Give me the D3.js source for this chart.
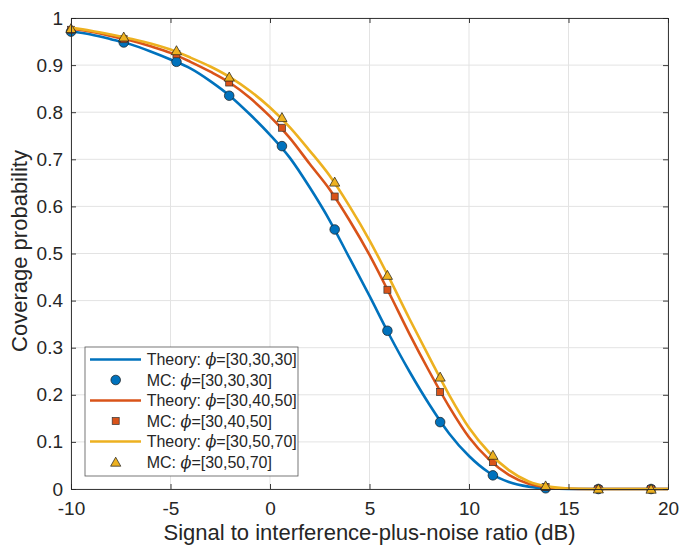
<!DOCTYPE html>
<html>
<head>
<meta charset="utf-8">
<script src="https://cdn.jsdelivr.net/npm/d3@7"></script>
<style>
  body { margin: 0; background: #fff; }
  text { font-family: "Liberation Sans", Arial, Helvetica, sans-serif; fill: #262626; }
</style>
</head>
<body>
<svg id="chart" width="680" height="546"></svg>
<script>
// theory curves, sampled every 1 dB
var sinrTheory = [-10,-9,-8,-7,-6,-5,-4,-3,-2,-1,0,1,2,3,4,5,6,7,8,9,10,11,12,13,14,15,16,17,18,19,20];
var theoryA = [0.972,0.965,0.955,0.944,0.929,0.912,0.893,0.866,0.834,0.795,0.752,0.703,0.640,0.570,0.490,0.410,0.327,0.250,0.180,0.118,0.070,0.035,0.015,0.005,0.001,0,0,0,0,0,0];
var theoryB = [0.977,0.971,0.962,0.952,0.940,0.926,0.907,0.886,0.862,0.830,0.791,0.745,0.690,0.636,0.570,0.497,0.415,0.330,0.250,0.175,0.110,0.063,0.030,0.011,0.003,0.0005,0,0,0,0,0];
var theoryC = [0.979,0.973,0.965,0.956,0.946,0.933,0.916,0.897,0.874,0.845,0.810,0.768,0.718,0.665,0.600,0.528,0.447,0.362,0.280,0.200,0.130,0.078,0.040,0.016,0.005,0.001,0,0,0,0,0];

// Monte Carlo points
var sinrMC = [-10,-7.35,-4.7,-2.05,0.6,3.25,5.9,8.55,11.2,13.85,16.5,19.15];
var mcA = [0.971,0.948,0.907,0.835,0.728,0.551,0.336,0.142,0.029,0.0015,0,0];
var mcB = [0.975,0.955,0.923,0.863,0.767,0.621,0.423,0.206,0.057,0.004,0,0];
var mcC = [0.978,0.960,0.931,0.875,0.789,0.652,0.454,0.238,0.072,0.007,0.0005,0];

var xTicks = [-10,-5,0,5,10,15,20];
var xTickLabels = ["-10","-5","0","5","10","15","20"];
var yTicks = [0,0.1,0.2,0.3,0.4,0.5,0.6,0.7,0.8,0.9,1];
var yTickLabels = ["0","0.1","0.2","0.3","0.4","0.5","0.6","0.7","0.8","0.9","1"];

var seriesNames = ["[30,30,30]","[30,40,50]","[30,50,70]"];
var colors = ["#0072BD","#D95319","#EDB120"];

var svg = d3.select("#chart");
var pLeft = 71, pRight = 668, pTop = 18, pBottom = 489;

var x = d3.scaleLinear().domain([-10,20]).range([pLeft,pRight]);
var y = d3.scaleLinear().domain([0,1]).range([pBottom,pTop]);

// grid
svg.append("g").selectAll("line").data(xTicks).enter().append("line")
  .attr("x1", d => x(d)).attr("x2", d => x(d))
  .attr("y1", pTop).attr("y2", pBottom)
  .attr("stroke", "#e3e3e3").attr("stroke-width", 1);
svg.append("g").selectAll("line").data(yTicks).enter().append("line")
  .attr("x1", pLeft).attr("x2", pRight)
  .attr("y1", d => y(d)).attr("y2", d => y(d))
  .attr("stroke", "#e3e3e3").attr("stroke-width", 1);

var line = d3.line()
  .x(d => x(d[0]))
  .y(d => y(d[1]))
  .curve(d3.curveMonotoneX);

function marker(sel, kind, color) {
  if (kind === 0) {
    sel.append("circle").attr("r", 4.8).attr("fill", color)
      .attr("stroke", "#1a1a1a").attr("stroke-width", 0.7);
  } else if (kind === 1) {
    sel.append("rect").attr("x", -3.5).attr("y", -3.5).attr("width", 7).attr("height", 7)
      .attr("fill", color).attr("stroke", "#333").attr("stroke-width", 0.7);
  } else {
    sel.append("path").attr("d", "M0,-4.8L5.1,4.2L-5.1,4.2Z").attr("fill", color)
      .attr("stroke", "#1a1a1a").attr("stroke-width", 0.7);
  }
}

var theory = [theoryA, theoryB, theoryC];
var mc = [mcA, mcB, mcC];
var plot = svg.append("g");

theory.forEach(function(vals, i) {
  plot.append("path")
    .datum(sinrTheory.map((s, j) => [s, vals[j]]))
    .attr("fill", "none")
    .attr("stroke", colors[i])
    .attr("stroke-width", 2.6)
    .attr("d", line);
  plot.append("g").selectAll("g").data(sinrMC.map((s, j) => [s, mc[i][j]])).enter()
    .append("g")
    .attr("transform", d => "translate(" + x(d[0]) + "," + y(d[1]) + ")")
    .each(function() { marker(d3.select(this), i, colors[i]); });
});

// axes (ticks inside, box all round)
var axB = svg.append("g").attr("transform", "translate(0," + pBottom + ")")
  .call(d3.axisBottom(x).tickValues(xTicks).tickSize(-5).tickPadding(13)
    .tickFormat((d, i) => xTickLabels[i]));
var axT = svg.append("g").attr("transform", "translate(0," + pTop + ")")
  .call(d3.axisTop(x).tickValues(xTicks).tickSize(-5).tickFormat(""));
var axL = svg.append("g").attr("transform", "translate(" + pLeft + ",0)")
  .call(d3.axisLeft(y).tickValues(yTicks).tickSize(-5).tickPadding(8)
    .tickFormat((d, i) => yTickLabels[i]));
var axR = svg.append("g").attr("transform", "translate(" + pRight + ",0)")
  .call(d3.axisRight(y).tickValues(yTicks).tickSize(-5).tickFormat(""));

[axB, axT, axL, axR].forEach(function(a) {
  a.select(".domain").attr("stroke", "#262626").attr("stroke-width", 0.9);
  a.selectAll(".tick line").attr("stroke", "#262626").attr("stroke-width", 0.9);
  a.selectAll(".tick text").style("font-size", "19px").attr("fill", "#262626")
    .style("font-family", "'Liberation Sans', Arial, sans-serif");
});

// axis titles
svg.append("text")
  .attr("x", (pLeft + pRight) / 2).attr("y", 540)
  .attr("text-anchor", "middle")
  .style("font-size", "22px")
  .text("Signal to interference-plus-noise ratio (dB)");
svg.append("text")
  .attr("transform", "translate(27," + 251 + ") rotate(-90)")
  .attr("text-anchor", "middle")
  .style("font-size", "22px")
  .text("Coverage probability");

// legend
var lg = svg.append("g");
lg.append("rect")
  .attr("x", 85).attr("y", 347).attr("width", 213).attr("height", 129)
  .attr("fill", "#fff").attr("stroke", "#555").attr("stroke-width", 0.8);

seriesNames.forEach(function(name, i) {
  var yl = 359.5 + 41 * i;
  var ym = yl + 20.5;
  lg.append("line")
    .attr("x1", 90).attr("x2", 141).attr("y1", yl).attr("y2", yl)
    .attr("stroke", colors[i]).attr("stroke-width", 2.6);
  var m = lg.append("g").attr("transform", "translate(115.7," + ym + ")");
  marker(m, i, colors[i]);

  [["Theory: ", yl], ["MC: ", ym]].forEach(function(r) {
    var t = lg.append("text").attr("x", 146.7).attr("y", r[1] + 5.7).style("font-size", "16px");
    t.append("tspan").text(r[0]);
    t.append("tspan").style("font-family", "'DejaVu Serif', serif").style("font-style", "italic").text("ϕ");
    t.append("tspan").text("=" + name);
  });
});
</script>
</body>
</html>
